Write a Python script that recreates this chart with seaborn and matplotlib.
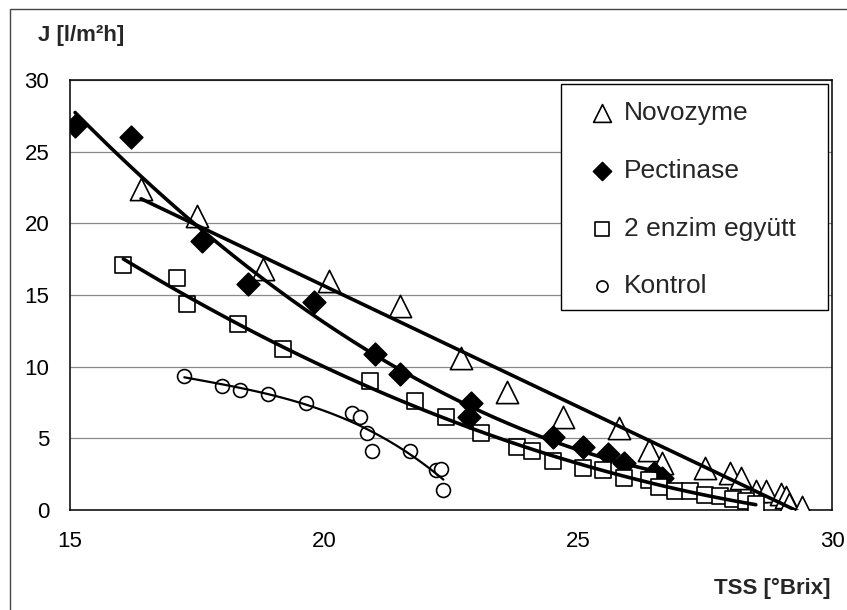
import matplotlib
matplotlib.use("Agg")
import matplotlib.pyplot as plt
import seaborn as sns
import numpy as np
from matplotlib.patches import Rectangle

# values
novo_x = [16.4, 17.5, 18.8, 20.1, 21.5, 22.7, 23.6, 24.7, 25.8, 26.4, 26.65,
          27.5, 28.0, 28.2, 28.5, 28.7, 29.0, 29.1, 29.15, 29.4]
novo_y = [22.4, 20.5, 16.8, 16.0, 14.2, 10.6, 8.2, 6.5, 5.7, 4.2, 3.3,
          2.9, 2.6, 2.2, 1.3, 1.3, 1.1, 0.9, 0.4, 0.2]

pect_x = [15.1, 16.2, 17.6, 18.5, 19.8, 21.0, 21.5, 22.9, 22.85, 24.5,
          25.1, 25.6, 25.9, 26.5, 26.65]
pect_y = [26.8, 26.0, 18.8, 15.8, 14.5, 10.9, 9.5, 7.5, 6.5, 5.1,
          4.4, 3.9, 3.3, 2.6, 2.2]

both_x = [16.05, 17.1, 17.3, 18.3, 19.2, 20.9, 21.8, 22.4, 23.1, 23.8, 24.1,
          24.5, 25.1, 25.5, 25.9, 26.4, 26.6, 26.9, 27.2, 27.5, 27.8, 28.05,
          28.3, 28.5]
both_y = [17.1, 16.2, 14.4, 13.0, 11.2, 9.0, 7.6, 6.5, 5.35, 4.4, 4.1,
          3.45, 2.9, 2.8, 2.2, 2.1, 1.6, 1.3, 1.35, 1.05, 0.95, 0.8,
          0.6, 0.4]

kont_x = [17.25, 18.0, 18.35, 18.9, 19.65, 20.55, 20.7, 20.85, 20.95,
          21.7, 22.2, 22.3, 22.35]
kont_y = [9.35, 8.65, 8.4, 8.1, 7.45, 6.8, 6.5, 5.4, 4.1,
          4.1, 2.8, 2.85, 1.4]

labels = ["Novozyme", "Pectinase", "2 enzim együtt", "Kontrol"]
x_ticks = [15, 20, 25, 30]
y_ticks = [0, 5, 10, 15, 20, 25, 30]

sns.set_style("white")
plt.rcParams["font.family"] = ["Liberation Sans", "DejaVu Sans"]

W, H = 847, 610
fig = plt.figure(figsize=(W / 100, H / 100), dpi=100)
ax = fig.add_axes([70 / W, 1 - 510 / H, 762 / W, 430 / H])

# (x, y, marker, size, face, fit order, line width)
series = [
    (novo_x, novo_y, "^", 16, "white", 1, 2.6),
    (pect_x, pect_y, "D", 11.5, "black", 2, 2.6),
    (both_x, both_y, "s", 12, "white", 2, 2.6),
    (kont_x, kont_y, "o", 10, "white", 3, 1.6),
]

for (x, y, mk, ms, fc, order, lw), name in zip(series, labels):
    sns.scatterplot(x=x, y=y, marker=mk, s=ms ** 2, color=fc,
                    edgecolor="black", linewidth=1.2, ax=ax, label=name,
                    zorder=3)
    sns.regplot(x=x, y=y, order=order, scatter=False, ci=None, ax=ax,
                line_kws=dict(color="black", lw=lw, zorder=4))

ax.set_xlim(15, 30)
ax.set_ylim(0, 30)
ax.set_xticks(x_ticks)
ax.set_yticks(y_ticks)
ax.set_xlabel("")
ax.set_ylabel("")
ax.yaxis.grid(True, color="#8a8a8a", lw=0.9)
ax.xaxis.grid(False)
ax.set_axisbelow(True)
for sp in ax.spines.values():
    sp.set_color("black")
    sp.set_linewidth(1.1)
ax.tick_params(axis="both", direction="out", length=5, width=1,
               color="black", labelsize=16, labelcolor="black")
ax.tick_params(axis="x", pad=10)
ax.tick_params(axis="y", pad=10)

# legend box
ax.add_patch(Rectangle(((561 - 70) / 762, (510 - 310) / 430), (828 - 561) / 762,
                       (310 - 84) / 430, transform=ax.transAxes,
                       facecolor="white", edgecolor="black", lw=1, zorder=5))
handles, labs = ax.get_legend_handles_labels()
leg = ax.legend(handles, labs, loc="upper left",
                bbox_to_anchor=((590 - 70) / 762, (510 - 101) / 430),
                frameon=False, fontsize=19, markerscale=0.8,
                handlelength=0.9, handletextpad=0.4, labelspacing=1.28,
                borderpad=0, borderaxespad=0)
leg.set_zorder(6)

fig.text(38 / W, 1 - 36 / H, "J [l/m²h]", fontsize=16, fontweight="bold",
         ha="left", va="center")
fig.text(830 / W, 1 - 588 / H, "TSS [°Brix]", fontsize=16, fontweight="bold",
         ha="right", va="center")

# outer chart frame
fig.patches.append(Rectangle((10 / W, -0.1), 1.2, 1.1 - 9 / H,
                             transform=fig.transFigure, fill=False,
                             edgecolor="#444444", lw=1))

fig.savefig("out.png", dpi=100)
